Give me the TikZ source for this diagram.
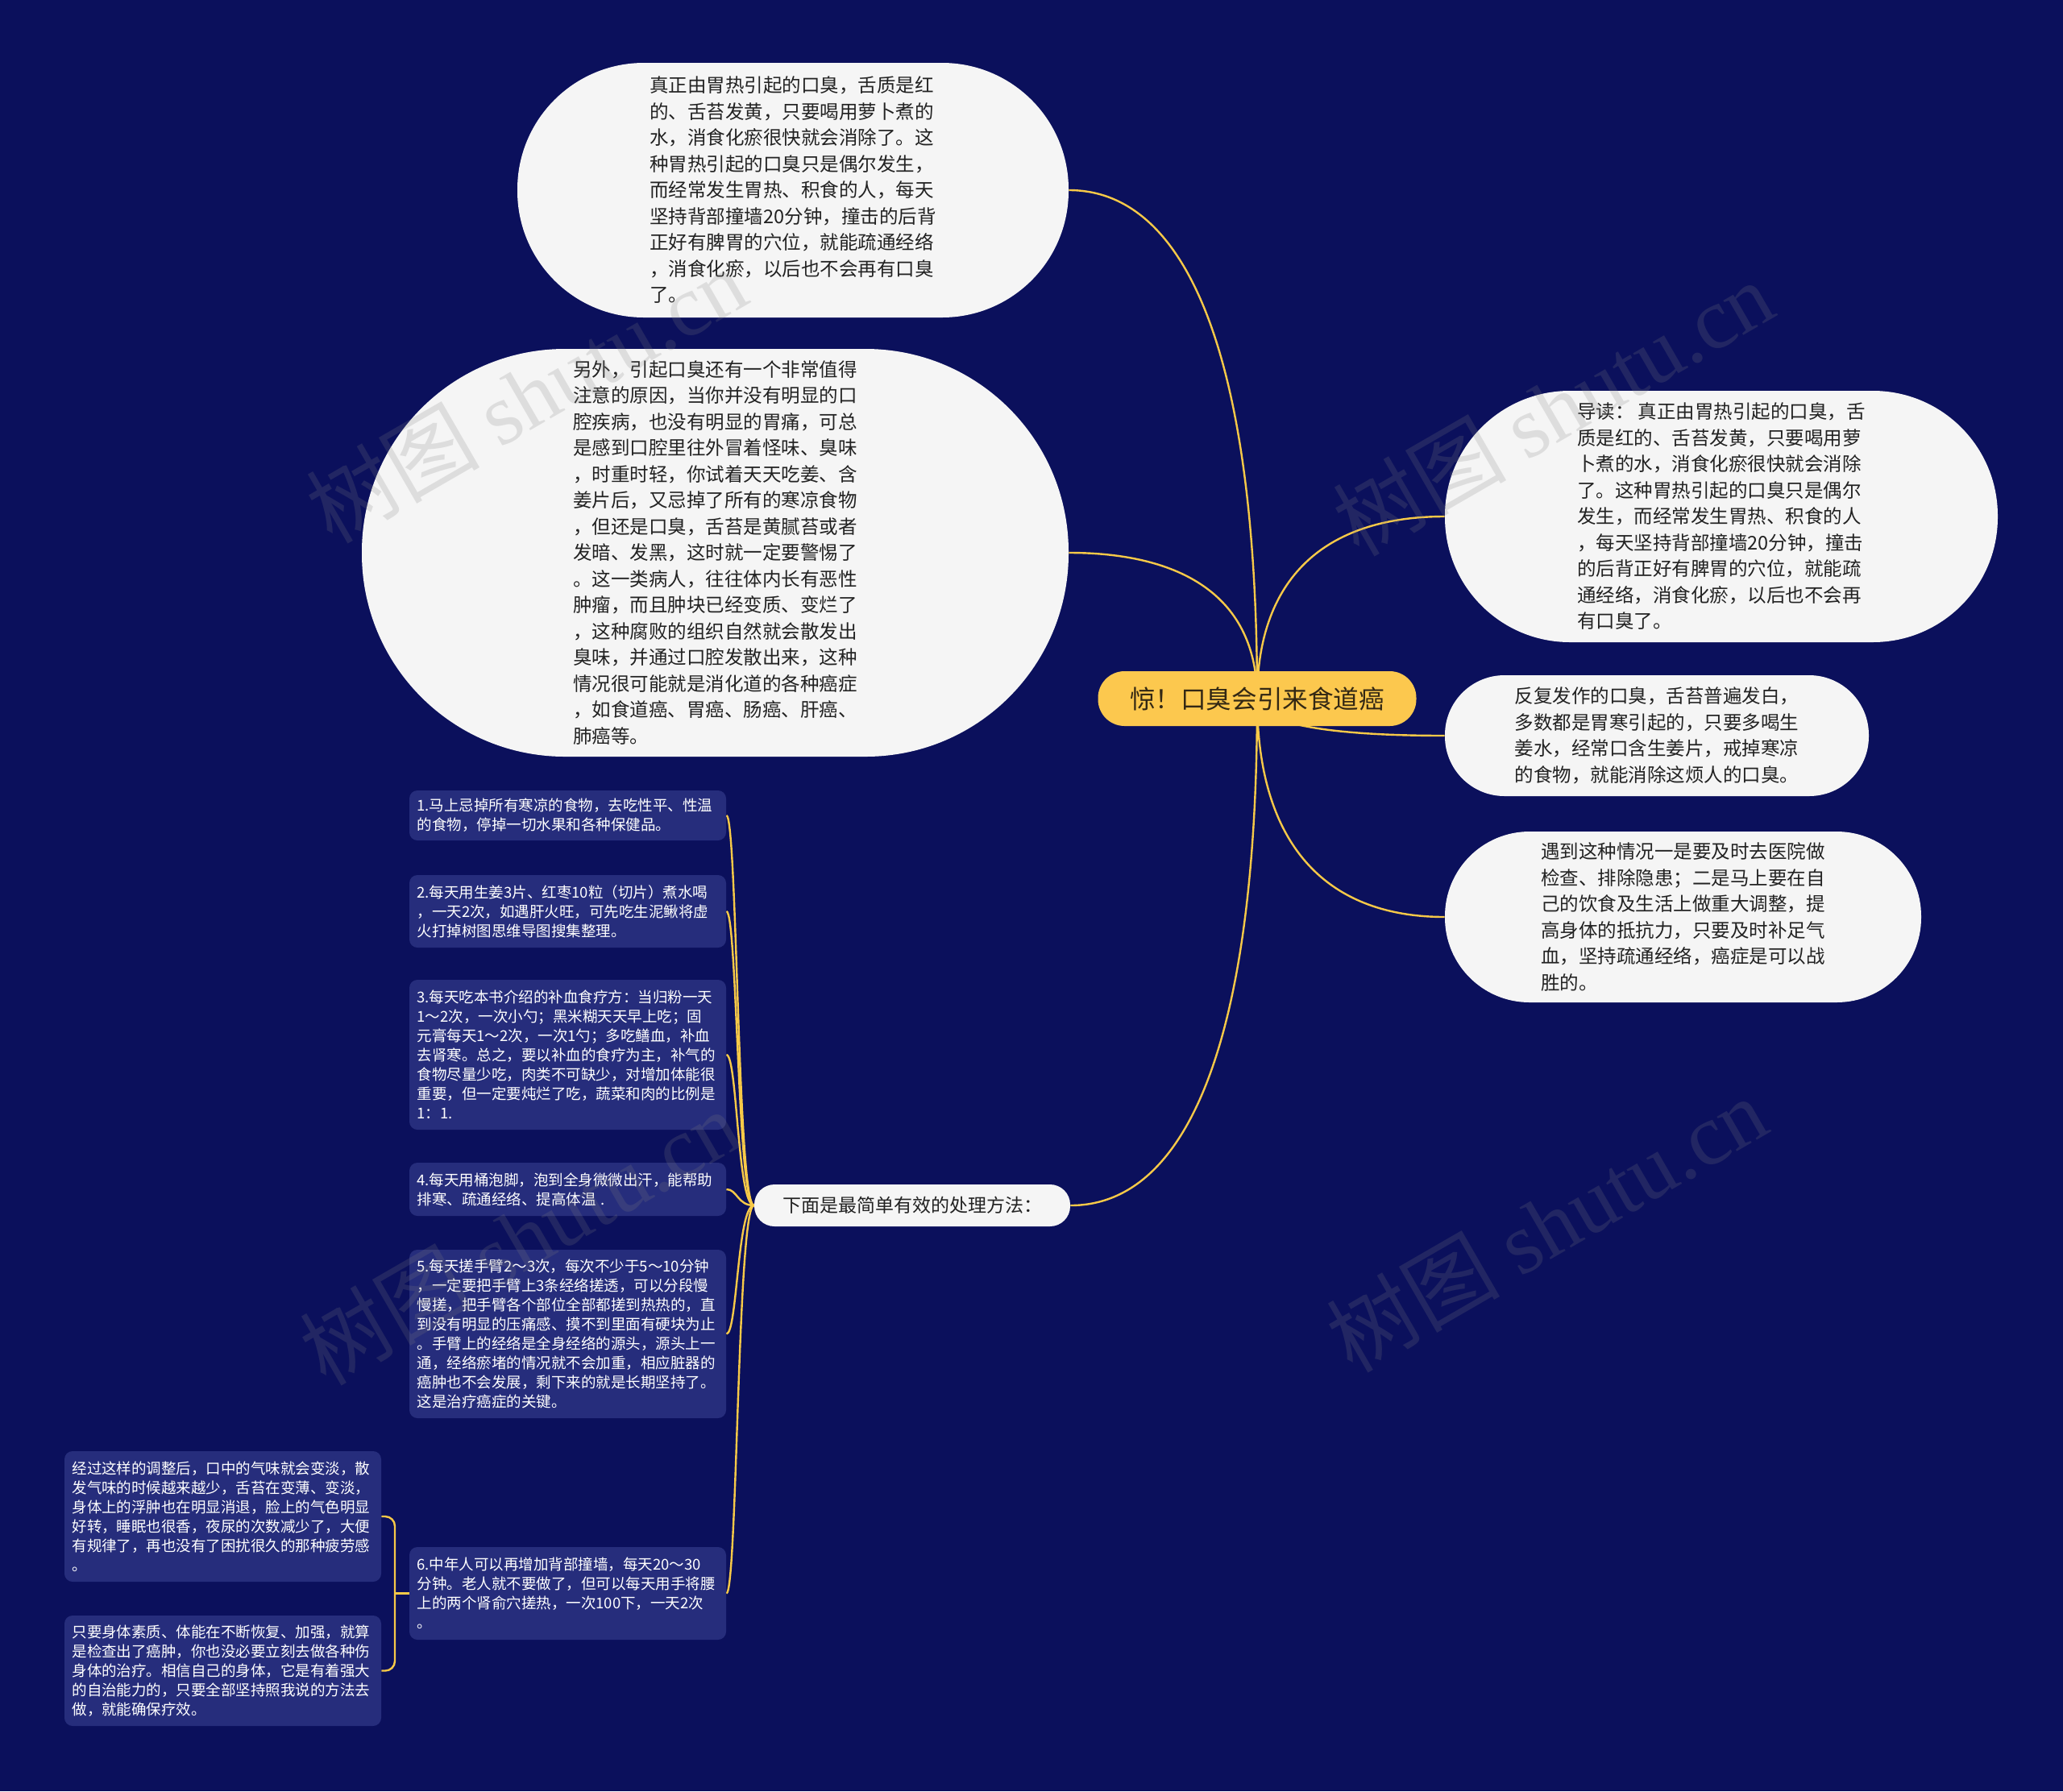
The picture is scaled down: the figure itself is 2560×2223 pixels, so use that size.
\documentclass[tikz,border=0pt]{standalone}
\usepackage{fontspec}
\setmainfont{Noto Sans CJK SC}
\newfontfamily\wmfont{Liberation Serif}
\usetikzlibrary{calc}
\definecolor{navy}{RGB}{11,16,92}
\definecolor{paper}{RGB}{245,245,245}
\definecolor{tile}{RGB}{38,45,124}
\definecolor{gold}{RGB}{247,201,72}
\definecolor{rootfill}{RGB}{252,200,78}
\definecolor{rootink}{RGB}{51,40,20}
\definecolor{ink}{RGB}{34,34,34}
\pgfdeclarelayer{back}
\pgfdeclarelayer{wires}
\pgfsetlayers{back,wires,main}
\tikzset{
  wire/.style={draw=gold, line width=1.2pt},
  bubble/.style={fill=paper, text=ink, align=left, inner sep=0pt,
    font=\fontsize{11.75}{16.25}\selectfont},
  tip/.style={fill=tile, text=white, align=left, text width=187pt,
    inner xsep=4.75pt, inner ysep=0pt, rounded corners=5pt,
    font=\fontsize{9.25}{12}\selectfont},
  watermark/.style={text=gray, text opacity=0.2, rotate=30,
    font=\fontsize{54}{54}\selectfont},
}

\begin{document}
\begin{tikzpicture}[x=0.5pt, y=-0.5pt]
  \useasboundingbox (0,0) rectangle (2560,2223);
  \begin{pgfonlayer}{back}
    \fill[navy] (0,0) rectangle (2560,2223);
  \end{pgfonlayer}

  % centre
  \node[fill=rootfill, text=rootink, rounded corners=16.5pt, minimum width=197.5pt,
    minimum height=34pt, font=\fontsize{15.8}{18}\selectfont] (root) at (1560,867) {惊！口臭会引来食道癌};

  % left bubbles
  \node[bubble, minimum width=342pt, minimum height=158pt, rounded corners=78.5pt] (topnote) at (984,236)
    {真正由胃热引起的口臭，舌质是红\\的、舌苔发黄，只要喝用萝卜煮的\\水，消食化瘀很快就会消除了。这\\种胃热引起的口臭只是偶尔发生，\\而经常发生胃热、积食的人，每天\\坚持背部撞墙20分钟，撞击的后背\\正好有脾胃的穴位，就能疏通经络\\，消食化瘀，以后也不会再有口臭\\了。};
  \node[bubble, minimum width=438.5pt, minimum height=253pt, rounded corners=126pt] (causenote) at (887.5,686)
    {另外，引起口臭还有一个非常值得\\注意的原因，当你并没有明显的口\\腔疾病，也没有明显的胃痛，可总\\是感到口腔里往外冒着怪味、臭味\\，时重时轻，你试着天天吃姜、含\\姜片后，又忌掉了所有的寒凉食物\\，但还是口臭，舌苔是黄腻苔或者\\发暗、发黑，这时就一定要警惕了\\。这一类病人，往往体内长有恶性\\肿瘤，而且肿块已经变质、变烂了\\，这种腐败的组织自然就会散发出\\臭味，并通过口腔发散出来，这种\\情况很可能就是消化道的各种癌症\\，如食道癌、胃癌、肠癌、肝癌、\\肺癌等。};

  % right bubbles
  \node[bubble, minimum width=343pt, minimum height=156pt, rounded corners=77.5pt] (intro) at (2136,641)
    {导读：\ 真正由胃热引起的口臭，舌\\质是红的、舌苔发黄，只要喝用萝\\卜煮的水，消食化瘀很快就会消除\\了。这种胃热引起的口臭只是偶尔\\发生，而经常发生胃热、积食的人\\，每天坚持背部撞墙20分钟，撞击\\的后背正好有脾胃的穴位，就能疏\\通经络，消食化瘀，以后也不会再\\有口臭了。};
  \node[bubble, minimum width=263pt, minimum height=75pt, rounded corners=37pt] (coldnote) at (2056,913)
    {反复发作的口臭，舌苔普遍发白，\\多数都是胃寒引起的，只要多喝生\\姜水，经常口含生姜片，戒掉寒凉\\的食物，就能消除这烦人的口臭。};
  \node[bubble, minimum width=295.5pt, minimum height=106pt, rounded corners=52.5pt] (advice) at (2088.5,1138)
    {遇到这种情况一是要及时去医院做\\检查、排除隐患；二是马上要在自\\己的饮食及生活上做重大调整，提\\高身体的抵抗力，只要及时补足气\\血，坚持疏通经络，癌症是可以战\\胜的。};

  % methods
  \node[bubble, minimum width=196pt, minimum height=26pt, rounded corners=12.5pt,
    font=\fontsize{11.5}{14}\selectfont] (methods) at (1132,1496) {下面是最简单有效的处理方法：};

  \node[tip, minimum height=31pt] (m1) at (704.5,1012)
    {1.马上忌掉所有寒凉的食物，去吃性平、性温\\的食物，停掉一切水果和各种保健品。};
  \node[tip, minimum height=45pt] (m2) at (704.5,1131)
    {2.每天用生姜3片、红枣10粒（切片）煮水喝\\，一天2次，如遇肝火旺，可先吃生泥鳅将虚\\火打掉树图思维导图搜集整理。};
  \node[tip, minimum height=93pt] (m3) at (704.5,1309)
    {3.每天吃本书介绍的补血食疗方：当归粉一天\\1～2次，一次小勺；黑米糊天天早上吃；固\\元膏每天1～2次，一次1勺；多吃鳝血，补血\\去肾寒。总之，要以补血的食疗为主，补气的\\食物尽量少吃，肉类不可缺少，对增加体能很\\重要，但一定要炖烂了吃，蔬菜和肉的比例是\\1：1.};
  \node[tip, minimum height=33pt] (m4) at (704.5,1476)
    {4.每天用桶泡脚，泡到全身微微出汗，能帮助\\排寒、疏通经络、提高体温 .};
  \node[tip, minimum height=104.5pt] (m5) at (704.5,1655.5)
    {5.每天搓手臂2～3次，每次不少于5～10分钟\\，一定要把手臂上3条经络搓透，可以分段慢\\慢搓，把手臂各个部位全部都搓到热热的，直\\到没有明显的压痛感、摸不到里面有硬块为止\\。手臂上的经络是全身经络的源头，源头上一\\通，经络瘀堵的情况就不会加重，相应脏器的\\癌肿也不会发展，剩下来的就是长期坚持了。\\这是治疗癌症的关键。};
  \node[tip, minimum height=57.5pt] (m6) at (704.5,1977.5)
    {6.中年人可以再增加背部撞墙，每天20～30\\分钟。老人就不要做了，但可以每天用手将腰\\上的两个肾俞穴搓热，一次100下，一天2次\\。};

  \node[tip, minimum height=81pt] (subA) at (276.5,1882)
    {经过这样的调整后，口中的气味就会变淡，散\\发气味的时候越来越少，舌苔在变薄、变淡，\\身体上的浮肿也在明显消退，脸上的气色明显\\好转，睡眠也很香，夜尿的次数减少了，大便\\有规律了，再也没有了困扰很久的那种疲劳感\\。};
  \node[tip, minimum height=68.5pt] (subB) at (276.5,2073.5)
    {只要身体素质、体能在不断恢复、加强，就算\\是检查出了癌肿，你也没必要立刻去做各种伤\\身体的治疗。相信自己的身体，它是有着强大\\的自治能力的，只要全部坚持照我说的方法去\\做，就能确保疗效。};

  \coordinate (spine) at (915,1496);
  \coordinate (brace) at (490,1977.5);

  \begin{pgfonlayer}{wires}
    \foreach \t/\a in {topnote/east, causenote/east, intro/west, coldnote/west, advice/west, methods/east}
      \draw[wire] (root.center) .. controls ($(root.center)!0.7!(root.center |- \t.\a)$)
        and ($(\t.\a)!0.6!(root.center |- \t.\a)$) .. (\t.\a);
    \foreach \i in {1,...,6}
      \draw[wire] (methods.west) .. controls (spine) and (spine |- m\i.east) .. (m\i.east);
    \draw[wire, rounded corners=6pt] (subA.east) -| (brace) |- (subB.east);
    \draw[wire] (m6.west) -- (brace);
  \end{pgfonlayer}

  % watermarks
  \foreach \n/\p in {1/{(653,490)}, 2/{(1927,506)}, 3/{(645,1535)}, 4/{(1919,1519)}}
    \node[watermark] (wm\n) at \p {树图 {\wmfont shutu.cn}};
\end{tikzpicture}
\end{document}
